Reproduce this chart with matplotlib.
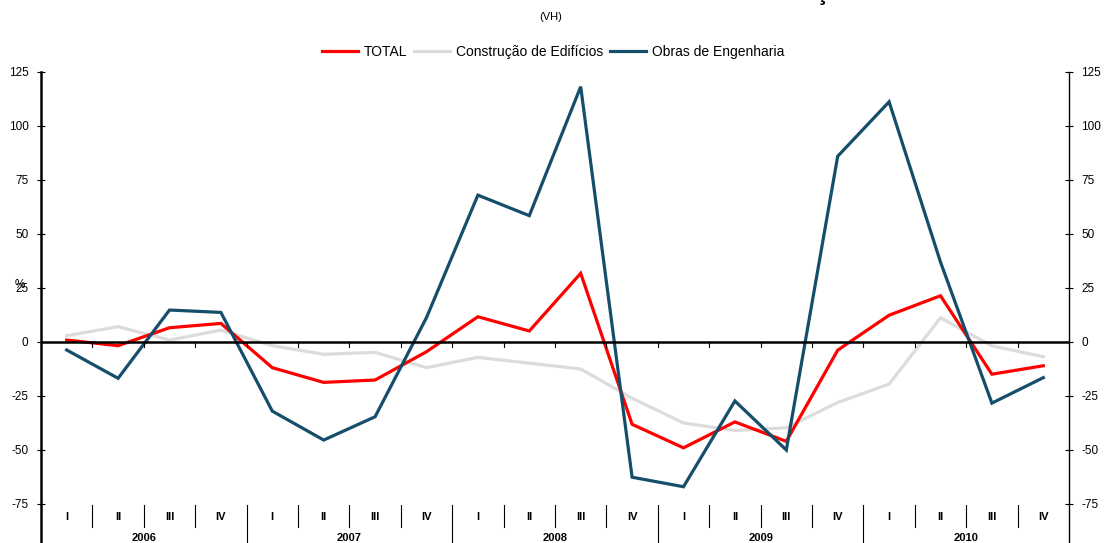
import matplotlib.pyplot as plt
import numpy as np

plt.rcParams['font.family'] = ['Liberation Sans', 'DejaVu Sans']
plt.rcParams['axes.unicode_minus'] = False

anos = ['2006', '2007', '2008', '2009', '2010']
trimestres = ['I', 'II', 'III', 'IV']

# variação homóloga (%)
total = [0.9, -1.7, 6.6, 8.6, -11.9, -18.7, -17.6, -4.5,
         11.7, 5.1, 31.8, -38.1, -49.0, -37.0, -46.0, -3.8,
         12.4, 21.4, -14.9, -11.0]
edificios = [2.9, 7.1, 0.9, 5.5, -1.7, -5.7, -4.8, -11.9,
             -7.1, -9.8, -12.5, -26.0, -37.5, -41.0, -39.7, -28.0,
             -19.5, 11.2, -1.8, -6.8]
engenharia = [-3.7, -16.8, 14.8, 13.7, -32.0, -45.4, -34.6, 11.3,
              68.0, 58.5, 118.2, -62.6, -67.0, -27.3, -50.0, 86.0,
              111.2, 37.0, -28.3, -16.5]

W, H = 1104, 543
fig = plt.figure(figsize=(W / 100, H / 100), dpi=100)

# area do grafico: 125 em y=72px, -75 em y=504px, desce ate ao fundo da figura
px_unit = (504 - 72) / 200.0
ymin = -75 - (H - 504) / px_unit
ax = fig.add_axes([41 / W, 0, (1069 - 41) / W, (H - 72) / H])

n = len(total)
x = np.arange(n)
ax.plot(x, edificios, color='#dcdcdc', lw=2.3, solid_joinstyle='miter', zorder=3)
ax.plot(x, total, color='#ff0000', lw=2.3, solid_joinstyle='miter', zorder=4)
ax.plot(x, engenharia, color='#154e6a', lw=2.3, solid_joinstyle='miter', zorder=5)

ax.set_xlim(-0.5, n - 0.5)
ax.set_ylim(ymin, 125)

# eixo do zero com marcas nos limites dos trimestres
ax.axhline(0, color='black', lw=1.8, zorder=6)
for b in np.arange(1, n):
    ax.plot([b - 0.5, b - 0.5], [0, -4.5 / px_unit], color='black', lw=0.8, zorder=6)

yt = np.arange(-75, 126, 25)
ax.set_yticks(yt)
ax.set_xticks([])
ax.tick_params(axis='y', direction='inout', length=6, width=0.8, labelsize=8.5, pad=6)
for s in ['top', 'bottom', 'right']:
    ax.spines[s].set_visible(False)
ax.spines['left'].set_linewidth(1.8)

ax2 = ax.twinx()
ax2.set_ylim(ymin, 125)
ax2.set_yticks(yt)
ax2.tick_params(axis='y', direction='inout', length=6, width=0.8, labelsize=8.5, pad=6)
for s in ['top', 'bottom', 'left']:
    ax2.spines[s].set_visible(False)
ax2.spines['right'].set_linewidth(1.0)

# eixo de categorias (trimestres / anos)
y_top = -75 - 1 / px_unit
y_q = -75 - (527 - 504) / px_unit
y_qlab = -75 - (517 - 504) / px_unit
y_ylab = -75 - (538 - 504) / px_unit
for i in range(n):
    ax.text(i, y_qlab, trimestres[i % 4], ha='center', va='center',
            fontsize=8, fontweight='bold')
    if i > 0:
        if i % 4 == 0:
            ax.plot([i - 0.5, i - 0.5], [y_top, ymin], color='black', lw=0.8, clip_on=False)
        else:
            ax.plot([i - 0.5, i - 0.5], [y_top, y_q], color='black', lw=0.8, clip_on=False)
for j, a in enumerate(anos):
    ax.text(j * 4 + 1.5, y_ylab, a, ha='center', va='center', fontsize=8, fontweight='bold')

ax.text(-0.5 - 21 / 51.4, 25 + 1.5, '%', ha='center', va='center', fontsize=8.5)

fig.text(551 / W, 1 - 17 / H, '(VH)', ha='center', va='center', fontsize=8)
fig.text(822 / W, 1.0, 'ç', ha='center', va='baseline', fontsize=17, fontweight='bold')

handles = [plt.Line2D([], [], color='#ff0000', lw=2.3),
           plt.Line2D([], [], color='#dcdcdc', lw=2.3),
           plt.Line2D([], [], color='#154e6a', lw=2.3)]
fig.legend(handles, ['TOTAL', 'Construção de Edifícios', 'Obras de Engenharia'],
           loc='center', bbox_to_anchor=(553 / W, 1 - 52 / H), ncol=3, frameon=False,
           fontsize=10, handlelength=2.6, handletextpad=0.4, columnspacing=0.5)

fig.savefig('out.png', dpi=100)
